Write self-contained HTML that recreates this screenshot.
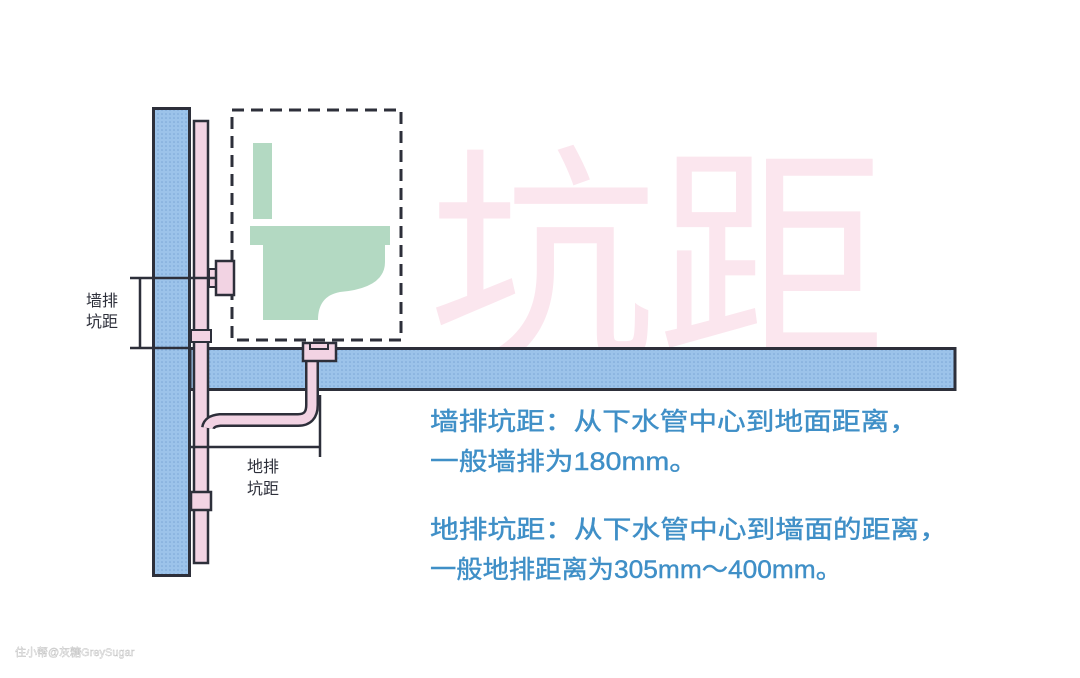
<!DOCTYPE html>
<html><head><meta charset="utf-8"><style>
html,body{margin:0;padding:0;background:#fff;width:1080px;height:678px;overflow:hidden}
svg{display:block}
text{font-family:"Liberation Sans","Noto Sans CJK SC",sans-serif}
</style></head><body>
<svg width="1080" height="678" viewBox="0 0 1080 678" xmlns="http://www.w3.org/2000/svg">
<defs>
<pattern id="dots" width="4" height="4" patternUnits="userSpaceOnUse">
<rect width="4" height="4" fill="#9cc3ea"/><circle cx="2" cy="2" r="0.8" fill="#7aa6d6"/>
</pattern>
</defs>
<rect width="1080" height="678" fill="#fff"/>
<text x="428" y="340" font-size="230" fill="#fbe6ee" textLength="458" lengthAdjust="spacingAndGlyphs">坑距</text>

<rect x="153.5" y="108.5" width="36" height="467" fill="url(#dots)" stroke="#2d2f3a" stroke-width="3"/>
<rect x="190" y="348.5" width="765" height="41" fill="url(#dots)" stroke="#2d2f3a" stroke-width="3"/>
<rect x="232" y="110" width="169" height="230" fill="none" stroke="#2d2f3a" stroke-width="3" stroke-dasharray="12,7"/>
<rect x="253" y="143" width="19" height="76" fill="#b3d9c2"/>
<rect x="250" y="226" width="140" height="19" fill="#b3d9c2"/>
<path d="M263 245 H385 V262 Q385 288 340 292 Q318 296 318 320 H263 Z" fill="#b3d9c2"/>
<rect x="194" y="121" width="14" height="442" fill="#f2d3e3" stroke="#2d2f3a" stroke-width="2.5"/>
<rect x="191" y="330" width="20" height="12" fill="#f2d3e3" stroke="#2d2f3a" stroke-width="2"/>
<rect x="191" y="492" width="20" height="18" fill="#f2d3e3" stroke="#2d2f3a" stroke-width="2.5"/>
<rect x="209" y="269" width="8" height="18" fill="#f2d3e3" stroke="#2d2f3a" stroke-width="2"/>
<rect x="216" y="261" width="18" height="34" fill="#f2d3e3" stroke="#2d2f3a" stroke-width="2.5"/>
<path d="M312 362 V405 Q312 420 298 420 H220 Q209 421 208 428" fill="none" stroke="#2d2f3a" stroke-width="14"/>
<path d="M312 362 V405 Q312 420 298 420 H220 Q209 421 208 428" fill="none" stroke="#f2d3e3" stroke-width="9"/>
<rect x="303" y="343" width="33" height="18" fill="#f2d3e3" stroke="#2d2f3a" stroke-width="2.5"/>
<rect x="310" y="343" width="18" height="6" fill="#f2d3e3" stroke="#2d2f3a" stroke-width="2"/>
<g stroke="#2d2f3a" stroke-width="2.5">
<line x1="130" y1="278" x2="216" y2="278"/>
<line x1="130" y1="348" x2="190" y2="348"/>
<line x1="140" y1="278" x2="140" y2="348"/>
<line x1="190" y1="447" x2="321" y2="447"/>
<line x1="320" y1="395" x2="320" y2="457"/>
</g>
<g font-size="16" fill="#2d2f3a">
<text x="86" y="306">墙排</text><text x="86" y="327">坑距</text>
<text x="247" y="472">地排</text><text x="247" y="494">坑距</text>
</g>
<g font-size="25" fill="#3f8fc7" stroke="#3f8fc7" stroke-width="0.4">
<text x="430" y="430" textLength="488" lengthAdjust="spacingAndGlyphs">墙排坑距：从下水管中心到地面距离，</text>
<text x="430" y="470" textLength="268" lengthAdjust="spacingAndGlyphs">一般墙排为180mm。</text>
<text x="430" y="538" textLength="518" lengthAdjust="spacingAndGlyphs">地排坑距：从下水管中心到墙面的距离，</text>
<text x="430" y="578" textLength="412" lengthAdjust="spacingAndGlyphs">一般地排距离为305mm～400mm。</text>
</g>
<text x="15" y="656" font-size="11" fill="#fff" stroke="#bbb" stroke-width="0.4">住小帮@灰糖GreySugar</text>
</svg>
</body></html>
